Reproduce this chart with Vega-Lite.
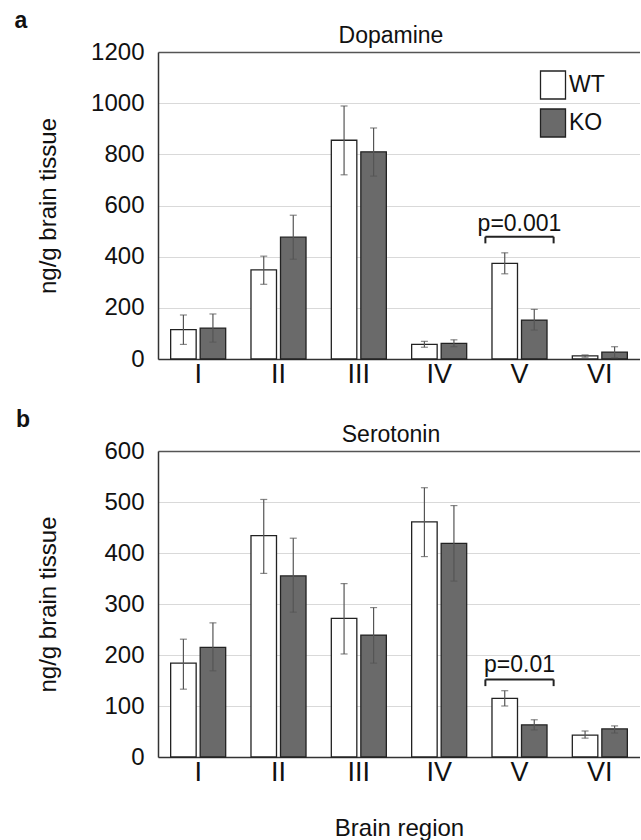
{
  "$schema": "https://vega.github.io/schema/vega-lite/v6.json",
  "padding": {"left": 14, "top": 10, "right": 0, "bottom": 0},
  "spacing": 22,
  "config": {
    "font": "Liberation Sans",
    "view": {"stroke": null},
    "axis": {"labelColor": "#111", "titleColor": "#111", "domainColor": "#333", "domainWidth": 1.5, "ticks": false, "gridColor": "#d9d9d9", "labelFontWeight": "normal", "titleFontWeight": "normal"},
    "title": {"color": "#111", "fontWeight": "normal"}
  },
  "resolve": {"scale": {"fill": "independent", "y": "independent", "x": "independent"}, "legend": {"fill": "independent"}},
  "vconcat": [
    {
      "title": {"text": "a", "anchor": "start", "fontWeight": "bold", "fontSize": 23, "offset": -8, "dx": -22},
      "resolve": {"scale": {"fill": "independent"}, "legend": {"fill": "independent"}},
      "vconcat": [
        {
          "title": {"text": "Dopamine", "frame": "group", "fontSize": 23, "offset": -8, "dx": -8},
          "width": 482,
          "height": 307,
          "data": {"values": [
            {"region": "I", "genotype": "WT", "mean": 115, "lo": 57, "hi": 172},
            {"region": "I", "genotype": "KO", "mean": 121, "lo": 66, "hi": 176},
            {"region": "II", "genotype": "WT", "mean": 348, "lo": 292, "hi": 402},
            {"region": "II", "genotype": "KO", "mean": 476, "lo": 390, "hi": 562},
            {"region": "III", "genotype": "WT", "mean": 855, "lo": 720, "hi": 989},
            {"region": "III", "genotype": "KO", "mean": 810, "lo": 715, "hi": 903},
            {"region": "IV", "genotype": "WT", "mean": 57, "lo": 46, "hi": 69},
            {"region": "IV", "genotype": "KO", "mean": 61, "lo": 48, "hi": 75},
            {"region": "V", "genotype": "WT", "mean": 374, "lo": 333, "hi": 415},
            {"region": "V", "genotype": "KO", "mean": 152, "lo": 113, "hi": 194},
            {"region": "VI", "genotype": "WT", "mean": 12, "lo": 7, "hi": 16},
            {"region": "VI", "genotype": "KO", "mean": 27, "lo": 5, "hi": 48}
          ]},
          "layer": [
            {
              "mark": {"type": "bar", "stroke": "#222", "strokeWidth": 1.3},
              "encoding": {
                "x": {"field": "region", "type": "nominal", "sort": ["I", "II", "III", "IV", "V", "VI"], "scale": {"paddingInner": 0.315, "paddingOuter": 0.1575}, "axis": {"title": null, "labelAngle": 0, "labelFontSize": 27, "labelPadding": 2}},
                "xOffset": {"field": "genotype", "type": "nominal", "sort": ["WT", "KO"], "scale": {"paddingInner": 0.136, "paddingOuter": 0}},
                "y": {"field": "mean", "type": "quantitative", "scale": {"domain": [0, 1200], "nice": false}, "axis": {"values": [0, 200, 400, 600, 800, 1000, 1200], "format": "d", "title": "ng/g brain tissue", "titleFontSize": 24, "labelFontSize": 24, "labelPadding": 14, "titlePadding": 30, "gridColor": {"condition": {"test": "datum.value >= 1200", "value": "#555"}, "value": "#d9d9d9"}, "gridWidth": {"condition": {"test": "datum.value >= 1200", "value": 1.5}, "value": 1}}},
                "fill": {"field": "genotype", "type": "nominal", "scale": {"domain": ["WT", "KO"], "range": ["#ffffff", "#6a6a6a"]}, "legend": {"title": null, "orient": "none", "legendX": 380, "legendY": 18, "symbolType": "M-0.893,-1L0.893,-1L0.893,1L-0.893,1Z", "symbolSize": 784, "symbolStrokeColor": "#222", "symbolStrokeWidth": 1.3, "labelFontSize": 23, "labelColor": "#111", "labelOffset": 1, "rowPadding": 4, "padding": 0}}
              }
            },
            {
              "mark": {"type": "rule", "stroke": "#555", "strokeWidth": 1.2},
              "encoding": {
                "x": {"field": "region", "type": "nominal", "sort": ["I", "II", "III", "IV", "V", "VI"]},
                "xOffset": {"field": "genotype", "type": "nominal", "sort": ["WT", "KO"]},
                "y": {"field": "lo", "type": "quantitative"},
                "y2": {"field": "hi"}
              }
            },
            {
              "mark": {"type": "tick", "orient": "horizontal", "size": 7, "thickness": 1.2, "color": "#555"},
              "encoding": {
                "x": {"field": "region", "type": "nominal", "sort": ["I", "II", "III", "IV", "V", "VI"]},
                "xOffset": {"field": "genotype", "type": "nominal", "sort": ["WT", "KO"]},
                "y": {"field": "lo", "type": "quantitative"}
              }
            },
            {
              "mark": {"type": "tick", "orient": "horizontal", "size": 7, "thickness": 1.2, "color": "#555"},
              "encoding": {
                "x": {"field": "region", "type": "nominal", "sort": ["I", "II", "III", "IV", "V", "VI"]},
                "xOffset": {"field": "genotype", "type": "nominal", "sort": ["WT", "KO"]},
                "y": {"field": "hi", "type": "quantitative"}
              }
            },
            {
              "data": {"values": [{"region": "V", "top": 478, "bottom": 452, "label": "p=0.001"}]},
              "layer": [
                {"mark": {"type": "rule", "color": "#222", "strokeWidth": 2}, "encoding": {"x": {"field": "region", "type": "nominal", "bandPosition": -0.12}, "x2": {"field": "region", "bandPosition": 1.12}, "y": {"field": "top", "type": "quantitative"}}},
                {"mark": {"type": "rule", "color": "#222", "strokeWidth": 2}, "encoding": {"x": {"field": "region", "type": "nominal", "bandPosition": -0.12}, "y": {"field": "top", "type": "quantitative"}, "y2": {"field": "bottom"}}},
                {"mark": {"type": "rule", "color": "#222", "strokeWidth": 2}, "encoding": {"x": {"field": "region", "type": "nominal", "bandPosition": 1.12}, "y": {"field": "top", "type": "quantitative"}, "y2": {"field": "bottom"}}},
                {"mark": {"type": "text", "fontSize": 23, "dy": -6, "baseline": "alphabetic", "color": "#111"}, "encoding": {"x": {"field": "region", "type": "nominal"}, "y": {"field": "top", "type": "quantitative"}, "text": {"field": "label"}}}
              ]
            }
          ]
        }
      ]
    },
    {
      "title": {"text": "b", "anchor": "start", "fontWeight": "bold", "fontSize": 23, "offset": -8, "dx": -21},
      "resolve": {"scale": {"fill": "independent"}, "legend": {"fill": "independent"}},
      "vconcat": [
        {
          "title": {"text": "Serotonin", "frame": "group", "fontSize": 23, "offset": -8, "dx": -8},
          "width": 482,
          "height": 306,
          "data": {"values": [
            {"region": "I", "genotype": "WT", "mean": 184, "lo": 133, "hi": 231},
            {"region": "I", "genotype": "KO", "mean": 215, "lo": 169, "hi": 263},
            {"region": "II", "genotype": "WT", "mean": 434, "lo": 360, "hi": 505},
            {"region": "II", "genotype": "KO", "mean": 355, "lo": 284, "hi": 429},
            {"region": "III", "genotype": "WT", "mean": 272, "lo": 202, "hi": 340},
            {"region": "III", "genotype": "KO", "mean": 239, "lo": 184, "hi": 293},
            {"region": "IV", "genotype": "WT", "mean": 461, "lo": 393, "hi": 528},
            {"region": "IV", "genotype": "KO", "mean": 419, "lo": 345, "hi": 493},
            {"region": "V", "genotype": "WT", "mean": 115, "lo": 100, "hi": 130},
            {"region": "V", "genotype": "KO", "mean": 63, "lo": 53, "hi": 73},
            {"region": "VI", "genotype": "WT", "mean": 43, "lo": 37, "hi": 51},
            {"region": "VI", "genotype": "KO", "mean": 55, "lo": 47, "hi": 61}
          ]},
          "layer": [
            {
              "mark": {"type": "bar", "stroke": "#222", "strokeWidth": 1.3},
              "encoding": {
                "x": {"field": "region", "type": "nominal", "sort": ["I", "II", "III", "IV", "V", "VI"], "scale": {"paddingInner": 0.315, "paddingOuter": 0.1575}, "axis": {"title": "Brain region", "titleFontSize": 24, "titlePadding": 31, "labelAngle": 0, "labelFontSize": 27, "labelPadding": 2}},
                "xOffset": {"field": "genotype", "type": "nominal", "sort": ["WT", "KO"], "scale": {"paddingInner": 0.136, "paddingOuter": 0}},
                "y": {"field": "mean", "type": "quantitative", "scale": {"domain": [0, 600], "nice": false}, "axis": {"values": [0, 100, 200, 300, 400, 500, 600], "format": "d", "title": "ng/g brain tissue", "titleFontSize": 24, "labelFontSize": 24, "labelPadding": 14, "titlePadding": 43, "gridColor": {"condition": {"test": "datum.value >= 600", "value": "#555"}, "value": "#d9d9d9"}, "gridWidth": {"condition": {"test": "datum.value >= 600", "value": 1.5}, "value": 1}}},
                "fill": {"field": "genotype", "type": "nominal", "scale": {"domain": ["WT", "KO"], "range": ["#ffffff", "#6a6a6a"]}, "legend": null}
              }
            },
            {
              "mark": {"type": "rule", "stroke": "#555", "strokeWidth": 1.2},
              "encoding": {
                "x": {"field": "region", "type": "nominal", "sort": ["I", "II", "III", "IV", "V", "VI"]},
                "xOffset": {"field": "genotype", "type": "nominal", "sort": ["WT", "KO"]},
                "y": {"field": "lo", "type": "quantitative"},
                "y2": {"field": "hi"}
              }
            },
            {
              "mark": {"type": "tick", "orient": "horizontal", "size": 7, "thickness": 1.2, "color": "#555"},
              "encoding": {
                "x": {"field": "region", "type": "nominal", "sort": ["I", "II", "III", "IV", "V", "VI"]},
                "xOffset": {"field": "genotype", "type": "nominal", "sort": ["WT", "KO"]},
                "y": {"field": "lo", "type": "quantitative"}
              }
            },
            {
              "mark": {"type": "tick", "orient": "horizontal", "size": 7, "thickness": 1.2, "color": "#555"},
              "encoding": {
                "x": {"field": "region", "type": "nominal", "sort": ["I", "II", "III", "IV", "V", "VI"]},
                "xOffset": {"field": "genotype", "type": "nominal", "sort": ["WT", "KO"]},
                "y": {"field": "hi", "type": "quantitative"}
              }
            },
            {
              "data": {"values": [{"region": "V", "top": 152, "bottom": 139, "label": "p=0.01"}]},
              "layer": [
                {"mark": {"type": "rule", "color": "#222", "strokeWidth": 2}, "encoding": {"x": {"field": "region", "type": "nominal", "bandPosition": -0.12}, "x2": {"field": "region", "bandPosition": 1.12}, "y": {"field": "top", "type": "quantitative"}}},
                {"mark": {"type": "rule", "color": "#222", "strokeWidth": 2}, "encoding": {"x": {"field": "region", "type": "nominal", "bandPosition": -0.12}, "y": {"field": "top", "type": "quantitative"}, "y2": {"field": "bottom"}}},
                {"mark": {"type": "rule", "color": "#222", "strokeWidth": 2}, "encoding": {"x": {"field": "region", "type": "nominal", "bandPosition": 1.12}, "y": {"field": "top", "type": "quantitative"}, "y2": {"field": "bottom"}}},
                {"mark": {"type": "text", "fontSize": 23, "dy": -7, "baseline": "alphabetic", "color": "#111"}, "encoding": {"x": {"field": "region", "type": "nominal"}, "y": {"field": "top", "type": "quantitative"}, "text": {"field": "label"}}}
              ]
            }
          ]
        }
      ]
    }
  ]
}
